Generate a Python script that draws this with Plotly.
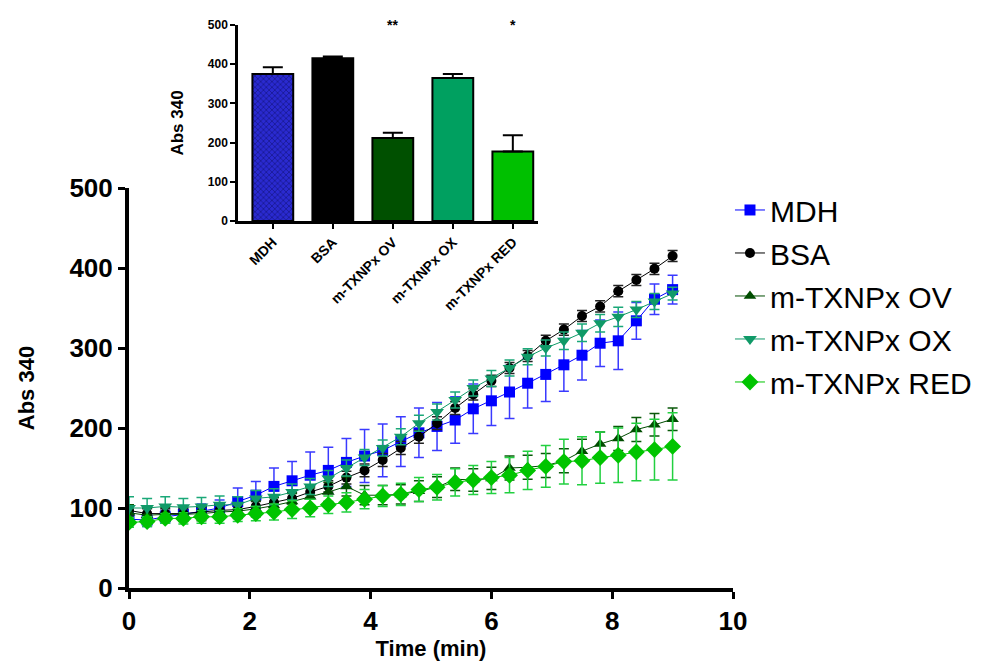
import plotly.graph_objects as go

# ---------------- data ----------------
time_min = [0.0, 0.3, 0.6, 0.9, 1.2, 1.5, 1.8, 2.1, 2.4, 2.7, 3.0, 3.3, 3.6, 3.9, 4.2,
            4.5, 4.8, 5.1, 5.4, 5.7, 6.0, 6.3, 6.6, 6.9, 7.2, 7.5, 7.8, 8.1, 8.4, 8.7, 9.0]

mdh = [86, 85, 89, 92, 96, 100, 108, 116, 127, 134, 141, 147, 157, 165, 172,
       183, 194, 202, 210, 224, 234, 245, 256, 267, 279, 291, 306, 309, 334, 361, 373]
mdh_err = [8, 8, 8, 8, 9, 10, 17, 17, 23, 24, 29, 29, 30, 33, 33,
           31, 31, 30, 29, 31, 31, 33, 31, 34, 33, 31, 29, 36, 23, 19, 18]

bsa = [97, 93, 93, 93, 95, 97, 98, 102, 107, 112, 120, 127, 138, 147, 160,
       175, 189, 206, 225, 242, 259, 275, 290, 309, 323, 340, 352, 371, 385, 399, 415]
bsa_err = [7, 6, 6, 6, 6, 6, 6, 6, 6, 7, 7, 7, 8, 8, 8,
           8, 8, 8, 8, 7, 7, 7, 7, 7, 7, 7, 7, 7, 7, 7, 7]

ov = [94, 91, 92, 92, 93, 95, 96, 99, 103, 108, 114, 120, 127, 116, 116,
      117, 121, 126, 136, 135, 137, 150, 151, 153, 159, 171, 180, 187, 198, 204, 211]
ov_err = [10, 9, 9, 9, 9, 9, 9, 10, 10, 10, 11, 12, 12, 12, 12,
          12, 13, 13, 14, 14, 14, 15, 15, 15, 15, 15, 15, 15, 15, 14, 14]

ox = [100, 100, 102, 101, 102, 104, 104, 112, 114, 120, 127, 137, 150, 163, 175,
      189, 206, 220, 235, 250, 262, 275, 289, 300, 309, 319, 331, 339, 348, 358, 368]
ox_err = [14, 12, 12, 11, 11, 11, 10, 10, 10, 10, 10, 10, 10, 10, 10,
          10, 10, 10, 10, 10, 10, 10, 10, 10, 11, 11, 11, 12, 10, 10, 8]

red = [82, 83, 87, 87, 89, 89, 91, 93, 95, 98, 100, 104, 107, 111, 115,
       117, 123, 126, 132, 135, 138, 141, 147, 152, 158, 159, 163, 166, 170, 173, 177]
red_err = [6, 6, 6, 7, 8, 8, 8, 9, 10, 11, 11, 11, 12, 12, 13,
           14, 15, 16, 17, 18, 20, 22, 24, 26, 28, 30, 32, 34, 36, 38, 42]

bar_categories = ["MDH", "BSA", "m-TXNPx OV", "m-TXNPx OX", "m-TXNPx RED"]
bar_values = [375, 415, 212, 365, 177]
bar_errors = [17, 5, 13, 10, 42]
bar_stars = ["", "", "**", "", "*"]

x_ticks = [0, 2, 4, 6, 8, 10]
y_ticks = [0, 100, 200, 300, 400, 500]

# ---------------- styling ----------------
FONT = "Liberation Sans, Arial, sans-serif"
series = [
    ("MDH", mdh, mdh_err, "#0000ff", "#3a3aff", "square", 11),
    ("BSA", bsa, bsa_err, "#000000", "#222222", "circle", 10),
    ("m-TXNPx OV", ov, ov_err, "#004d00", "#0a5a0a", "triangle-up", 11),
    ("m-TXNPx OX", ox, ox_err, "#109a68", "#1aa878", "triangle-down", 12),
    ("m-TXNPx RED", red, red_err, "#00c400", "#22d040", "diamond", 13),
]
bar_colors = ["#1c1cb4", "#000000", "#005000", "#00a060", "#00c000"]

fig = go.Figure()

for i, (name, vals, errs, mcol, ecol, sym, sz) in enumerate(series):
    fig.add_trace(go.Scatter(
        x=time_min, y=vals, name=name, mode="lines+markers",
        legendgroup=f"g{i}",
        line=dict(color=mcol, width=1),
        marker=dict(symbol=sym, size=sz, color=mcol),
        error_y=dict(type="data", array=errs, visible=True,
                     color=ecol, thickness=1.5, width=5),
        xaxis="x", yaxis="y",
    ))

# inset bar chart
for i, cat in enumerate(bar_categories):
    marker = dict(color=bar_colors[i], line=dict(color="#000000", width=2))
    if i == 0:
        marker["pattern"] = dict(shape="x", fgcolor="#0a0a60", bgcolor="#2a2ad0",
                                 size=4, solidity=0.4)
    fig.add_trace(go.Bar(
        x=[cat], y=[bar_values[i]], width=0.68, showlegend=False,
        marker=marker,
        error_y=dict(type="data", array=[bar_errors[i]], arrayminus=[0],
                     visible=True, color="#000000", thickness=2, width=10),
        xaxis="x2", yaxis="y2",
    ))

annotations = []
for cat, star in zip(bar_categories, bar_stars):
    if star:
        annotations.append(dict(x=cat, y=500, xref="x2", yref="y2", text=f"<b>{star}</b>",
                                showarrow=False, yanchor="middle",
                                font=dict(family=FONT, size=14, color="#000000")))

fig.update_layout(
    width=978, height=653,
    paper_bgcolor="white", plot_bgcolor="white",
    margin=dict(l=121, r=253, t=2, b=73, autoexpand=False),
    font=dict(family=FONT, color="#000000"),
    showlegend=True,
    legend=dict(x=0.995, y=0.699, xanchor="left", yanchor="top",
                font=dict(family=FONT, size=30, color="#000000"),
                traceorder="grouped", tracegroupgap=1,
                itemwidth=30, bgcolor="rgba(0,0,0,0)"),
    xaxis=dict(domain=[0, 1], range=[0, 10], tickvals=x_ticks,
               showline=True, linecolor="#000000", linewidth=4,
               ticks="outside", ticklen=7, tickwidth=3, tickcolor="#000000",
               showgrid=False, zeroline=False, automargin=False,
               tickfont=dict(family=FONT, size=26, color="#000000", weight="bold"),
               title=dict(text="<b>Time (min)</b>", standoff=6,
                          font=dict(family=FONT, size=22, color="#000000")),
               anchor="y"),
    yaxis=dict(domain=[0, 0.692], range=[0, 500], tickvals=y_ticks,
               showline=True, linecolor="#000000", linewidth=4,
               ticks="outside", ticklen=7, tickwidth=3, tickcolor="#000000",
               showgrid=False, zeroline=False, automargin=False,
               tickfont=dict(family=FONT, size=26, color="#000000", weight="bold"),
               title=dict(text="<b>Abs 340</b>", standoff=30,
                          font=dict(family=FONT, size=22, color="#000000")),
               anchor="x"),
    xaxis2=dict(domain=[0.1805, 0.6772], range=[-0.58, 4.42],
                type="category", categoryorder="array", categoryarray=bar_categories,
                showline=True, linecolor="#000000", linewidth=2.5,
                ticks="outside", ticklen=5, tickwidth=2, tickcolor="#000000",
                tickangle=-45, showgrid=False, zeroline=False, automargin=False,
                tickfont=dict(family=FONT, size=14, color="#000000", weight="bold"),
                anchor="y2"),
    yaxis2=dict(domain=[0.635, 0.974], range=[0, 500], tickvals=y_ticks,
                showline=True, linecolor="#000000", linewidth=2.5,
                ticks="outside", ticklen=5, tickwidth=2, tickcolor="#000000",
                showgrid=False, zeroline=False, automargin=False,
                tickfont=dict(family=FONT, size=12, color="#000000", weight="bold"),
                title=dict(text="<b>Abs 340</b>", standoff=20,
                           font=dict(family=FONT, size=17, color="#000000")),
                anchor="x2"),
    annotations=annotations,
    bargap=0.3,
)

fig.write_html("out.html")
